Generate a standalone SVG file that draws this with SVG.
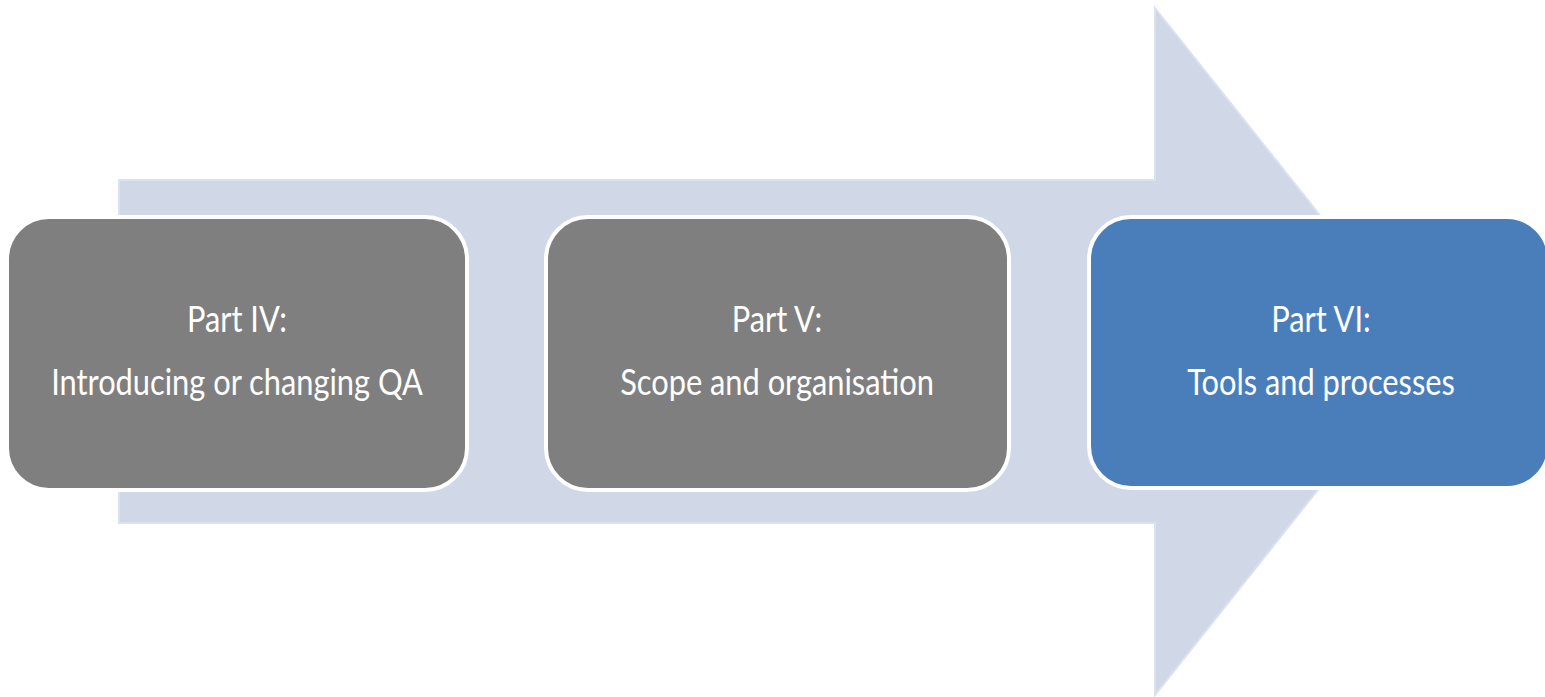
<svg xmlns="http://www.w3.org/2000/svg" width="1545" height="697" viewBox="0 0 1545 697">
<style>
.box{stroke:#ffffff;stroke-width:4}
.gray{fill:#7f7f7f}
.blue{fill:#4a7ebb}
.lbl{font-family:Lato,"Open Sans",sans-serif;font-size:30.8px;fill:#ffffff;text-anchor:middle}
</style>
<rect width="1545" height="697" fill="#ffffff"/>
<g id="connectors">
<polygon points="119,180 1155,180 1155,8 1428,351 1155,695 1155,523 119,523" fill="#d0d8e8" stroke="#dbe2ef" stroke-width="2"/>
</g>
<g id="node1">
<rect class="box gray" x="7" y="217" width="460" height="273" rx="42"/>
<text class="lbl" transform="translate(237,332) scale(1,1.18)">Part IV:</text>
<text class="lbl" transform="translate(237,395) scale(1,1.18)">Introducing or changing QA</text>
</g>
<g id="node2">
<rect class="box gray" x="546" y="217" width="463" height="273" rx="42"/>
<text class="lbl" transform="translate(777,332) scale(1,1.18)">Part V:</text>
<text class="lbl" transform="translate(777,395) scale(1,1.18)">Scope and organisation</text>
</g>
<g id="node3">
<rect class="box blue" x="1089" y="217" width="460" height="271" rx="42"/>
<text class="lbl" transform="translate(1321,332) scale(1,1.18)">Part VI:</text>
<text class="lbl" transform="translate(1321,395) scale(1,1.18)">Tools and processes</text>
</g>
</svg>
